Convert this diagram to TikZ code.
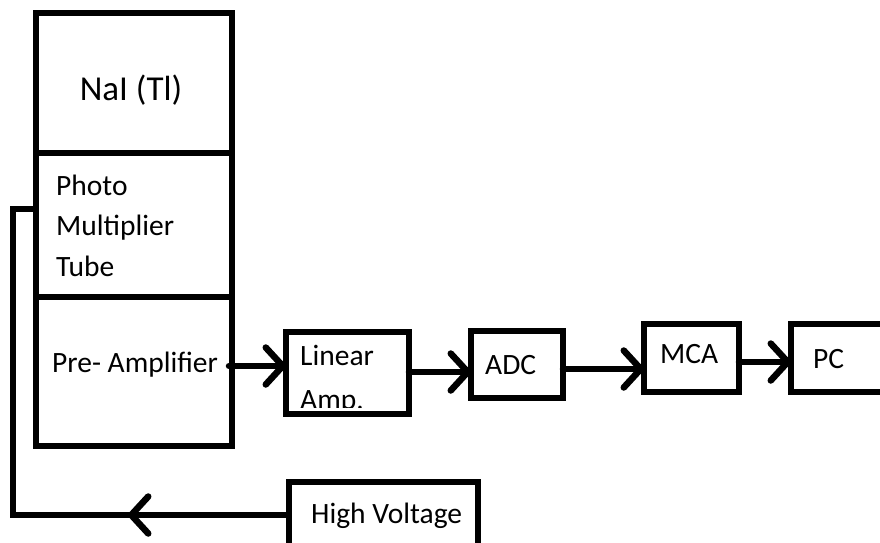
\documentclass[tikz,border=0pt]{standalone}
\usepackage{fontspec}
\setmainfont{Carlito}
\usetikzlibrary{arrows.meta,decorations.markings}
\tikzset{barb/.tip={Straight Barb[length=17pt,width=37pt,round]}}
\begin{document}
\begin{tikzpicture}[x=1pt,y=-1pt,
  box/.style={draw=black,line width=6.5pt,rectangle,inner sep=0pt,outer sep=0pt},
  lbl/.style={font=\fontsize{29.5}{35}\selectfont,inner sep=0pt,anchor=base west},
  conn/.style={line width=6.5pt,line cap=round,-barb},
]
\clip (0,0) rectangle (880,542);
\fill[white] (0,0) rectangle (880,542);
% detector column
\node[box,minimum width=196pt,minimum height=140pt] (nai) at (134,83) {};
\node[box,minimum width=196pt,minimum height=144pt] (pmt) at (134,225) {};
\node[box,minimum width=196pt,minimum height=149pt] (pre) at (134,371.5) {};
% chain boxes
\node[box,minimum width=123pt,minimum height=82pt] (lin) at (347.5,373) {};
\node[box,minimum width=92pt,minimum height=67pt] (adc) at (517,364.5) {};
\node[box,minimum width=95pt,minimum height=68pt] (mca) at (691.5,358) {};
\node[box,minimum width=129pt,minimum height=68pt] (pc) at (855.5,358) {};
\node[box,minimum width=189pt,minimum height=88pt] (hv) at (383.5,526) {};
% texts
\node[font=\fontsize{35}{40}\selectfont,inner sep=0pt,anchor=base] (naiT) at (131,100) {NaI (Tl)};
\node[lbl] (photoT) at (56,195) {Photo};
\node[lbl] (multT) at (56,235) {Multiplier};
\node[lbl] (tubeT) at (56,276) {Tube};
\node[lbl] (preT) at (52,372) {Pre- Amplifier};
\node[lbl] (linT) at (300,365) {Linear};
\begin{scope}
  \clip (289,335) rectangle (406,407);
  \node[lbl] (ampT) at (300,409) {Amp.};
\end{scope}
\node[lbl] (adcT) at (485,374) {ADC};
\node[lbl] (mcaT) at (660,363) {MCA};
\node[lbl] (pcT) at (813,368) {PC};
\node[lbl] (hvT) at (311,523) {High Voltage};
% connectors
\coordinate (p1) at ([xshift=-3pt,yshift=5.5pt]pre.east);
\draw[conn] (p1) -- (lin.west |- p1);
\coordinate (p2) at ([yshift=1pt]lin.east);
\draw[conn] (p2) -- (adc.west |- p2);
\coordinate (p3) at ([yshift=-4.5pt]adc.east);
\draw[conn] (p3) -- (mca.west |- p3);
\coordinate (p4) at ([yshift=-4pt]mca.east);
\draw[conn] (p4) -- (pc.west |- p4);
% high voltage feedback
\coordinate (h0) at ([yshift=11pt]hv.west);
\coordinate (h1) at (13,515);
\coordinate (h2) at (13,209);
\draw[line width=6.5pt,line join=miter,
  decoration={markings,mark=at position 161pt with {\arrow{barb}}},postaction={decorate}]
  (h0) -- (h1) -- (h2) -- (pmt.west |- h2);
\end{tikzpicture}
\end{document}
